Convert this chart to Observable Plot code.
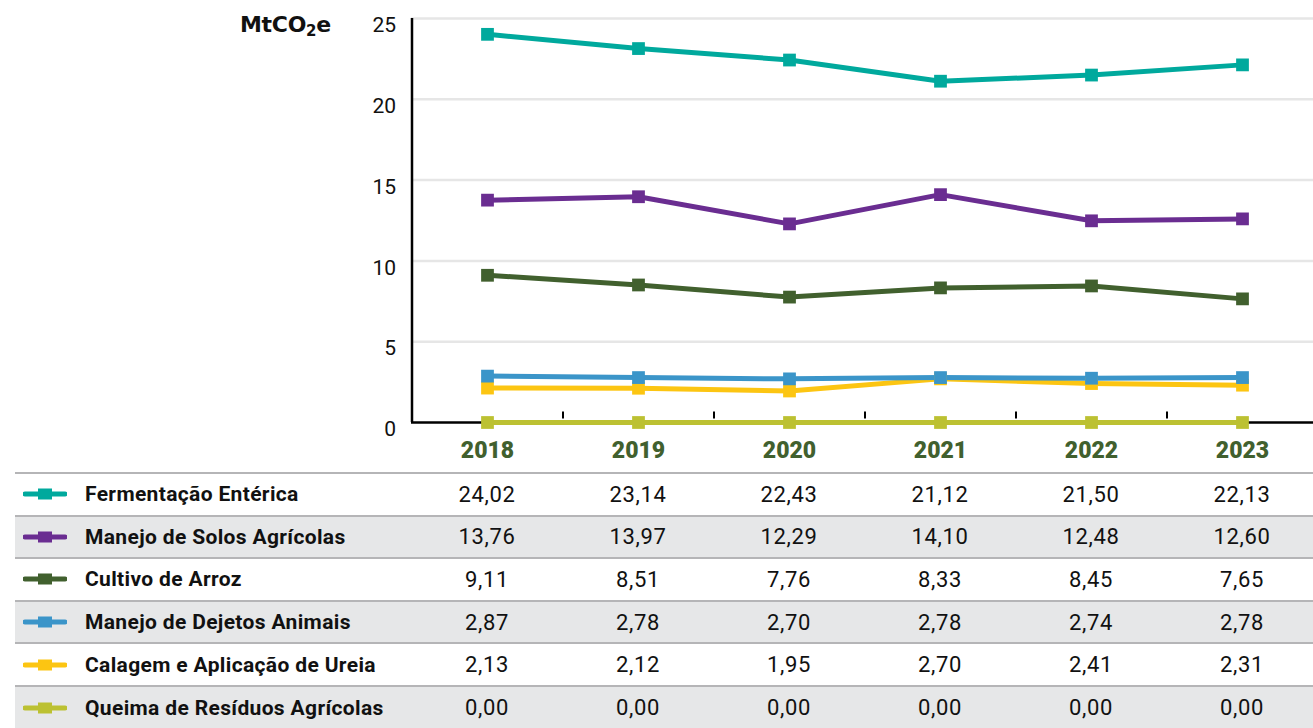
<!DOCTYPE html>
<html>
<head>
<meta charset="utf-8">
<script src="https://cdn.jsdelivr.net/npm/d3@7"></script>
<script src="https://cdn.jsdelivr.net/npm/@observablehq/plot@0.6"></script>
<style>
  html, body { margin: 0; padding: 0; background: #fff; }
  #wrap { position: relative; width: 1313px; height: 728px; overflow: hidden; font-family: Roboto, "Liberation Sans", sans-serif; }
  #chart { position: absolute; left: 0; top: 0; }
  #chart svg { display: block; }
  .unit { position: absolute; left: 240px; top: 12px; font-family: "DejaVu Sans", sans-serif; font-weight: bold; font-size: 22px; color: #111; letter-spacing: -0.3px; }
  .unit sub { font-size: 15px; vertical-align: -4px; }
  .row { position: absolute; left: 15px; width: 1298px; box-sizing: border-box; border-top: 2.5px solid #b5b5b7; }
  .row .lab { position: absolute; left: 70px; top: 0; bottom: 0; display: flex; align-items: center; font-weight: bold; font-size: 21px; letter-spacing: 0.35px; color: #111; white-space: nowrap; }
  .row .val { position: absolute; top: 0; bottom: 0; display: flex; align-items: center; font-size: 22px; letter-spacing: 0.6px; color: #111; transform: translateX(-50%); white-space: nowrap; }
  .row svg.mk { position: absolute; left: 8px; top: 50%; margin-top: -8px; }
</style>
</head>
<body>
<div id="wrap">
  <div id="chart"></div>
  <div class="unit">MtCO<sub>2</sub>e</div>
</div>
<script>
const years = ["2018", "2019", "2020", "2021", "2022", "2023"];
const seriesNames = [
  "Fermentação Entérica",
  "Manejo de Solos Agrícolas",
  "Cultivo de Arroz",
  "Manejo de Dejetos Animais",
  "Calagem e Aplicação de Ureia",
  "Queima de Resíduos Agrícolas"
];
const seriesColors = ["#00a99d", "#6a2d91", "#41602e", "#3b95c9", "#fcc512", "#bcc132"];
const fermentacao = [24.02, 23.14, 22.43, 21.12, 21.50, 22.13];
const solos = [13.76, 13.97, 12.29, 14.10, 12.48, 12.60];
const arroz = [9.11, 8.51, 7.76, 8.33, 8.45, 7.65];
const dejetos = [2.87, 2.78, 2.70, 2.78, 2.74, 2.78];
const calagem = [2.13, 2.12, 1.95, 2.70, 2.41, 2.31];
const queima = [0.00, 0.00, 0.00, 0.00, 0.00, 0.00];
const yTicks = [0, 5, 10, 15, 20, 25];

const allValues = [fermentacao, solos, arroz, dejetos, calagem, queima];
const long = [];
for (let i = seriesNames.length - 1; i >= 0; i--) {
  years.forEach((y, j) => long.push({series: seriesNames[i], year: y, value: allValues[i][j]}));
}
const half = 75.5;

const chart = Plot.plot({
  width: 1313,
  height: 470,
  marginLeft: 411,
  marginRight: 0,
  marginTop: 18,
  marginBottom: 48,
  x: {type: "point", domain: years, padding: 0.5, range: [411, 1317], axis: null},
  y: {domain: [0, 25], axis: null},
  color: {domain: seriesNames, range: seriesColors},
  marks: [
    Plot.ruleY(yTicks.slice(1), {stroke: "#e6e6e6", strokeWidth: 2.5}),
    Plot.ruleX([years[0]], {x: d => d, dx: -half, y1: 0, y2: 25, stroke: "#000", strokeWidth: 2.5}),
    Plot.ruleY([0], {stroke: "#000", strokeWidth: 2.5}),
    Plot.ruleX(years.slice(1), {x: d => d, dx: -half, y1: 0.22, y2: 0.65, stroke: "#000", strokeWidth: 2}),
    Plot.text(yTicks, {x: () => years[0], dx: -half - 16, y: d => d, dy: 7, text: d => String(d), textAnchor: "end", fontSize: 21, fill: "#111", fontFamily: "Roboto", letterSpacing: 0.5}),
    Plot.text(years, {x: d => d, y: () => 0, dy: 28, text: d => d, fontSize: 23, fontWeight: 900, fill: "#41602e", fontFamily: "Roboto", letterSpacing: 0.6}),
    Plot.line(long, {x: "year", y: "value", z: "series", stroke: "series", strokeWidth: 5}),
    Plot.dot(long, {x: "year", y: "value", fill: "series", symbol: "square", r: 7.2})
  ]
});
document.getElementById("chart").appendChild(chart);

const xs = chart.scale("x");
const wrap = document.getElementById("wrap");
const rowTop = 472, rowH = 42.6;
seriesNames.forEach((name, i) => {
  const row = document.createElement("div");
  row.className = "row";
  row.style.top = (rowTop + rowH * i) + "px";
  row.style.height = (rowH + (i === seriesNames.length - 1 ? 2.5 : 0)) + "px";
  if (i === seriesNames.length - 1) row.style.borderBottom = "2.5px solid #b5b5b7";
  row.style.background = i % 2 === 1 ? "#e6e7e8" : "#fff";
  row.innerHTML = `<svg class="mk" width="44" height="16"><line x1="2" x2="42" y1="8" y2="8" stroke="${seriesColors[i]}" stroke-width="5" stroke-linecap="round"/><rect x="15" y="2.5" width="14" height="11" fill="${seriesColors[i]}"/></svg><div class="lab">${name}</div>`;
  years.forEach((y, j) => {
    const v = document.createElement("div");
    v.className = "val";
    v.style.left = (xs.apply(y) - 15) + "px";
    v.textContent = allValues[i][j].toFixed(2).replace(".", ",");
    row.appendChild(v);
  });
  wrap.appendChild(row);
});
</script>
</body>
</html>
